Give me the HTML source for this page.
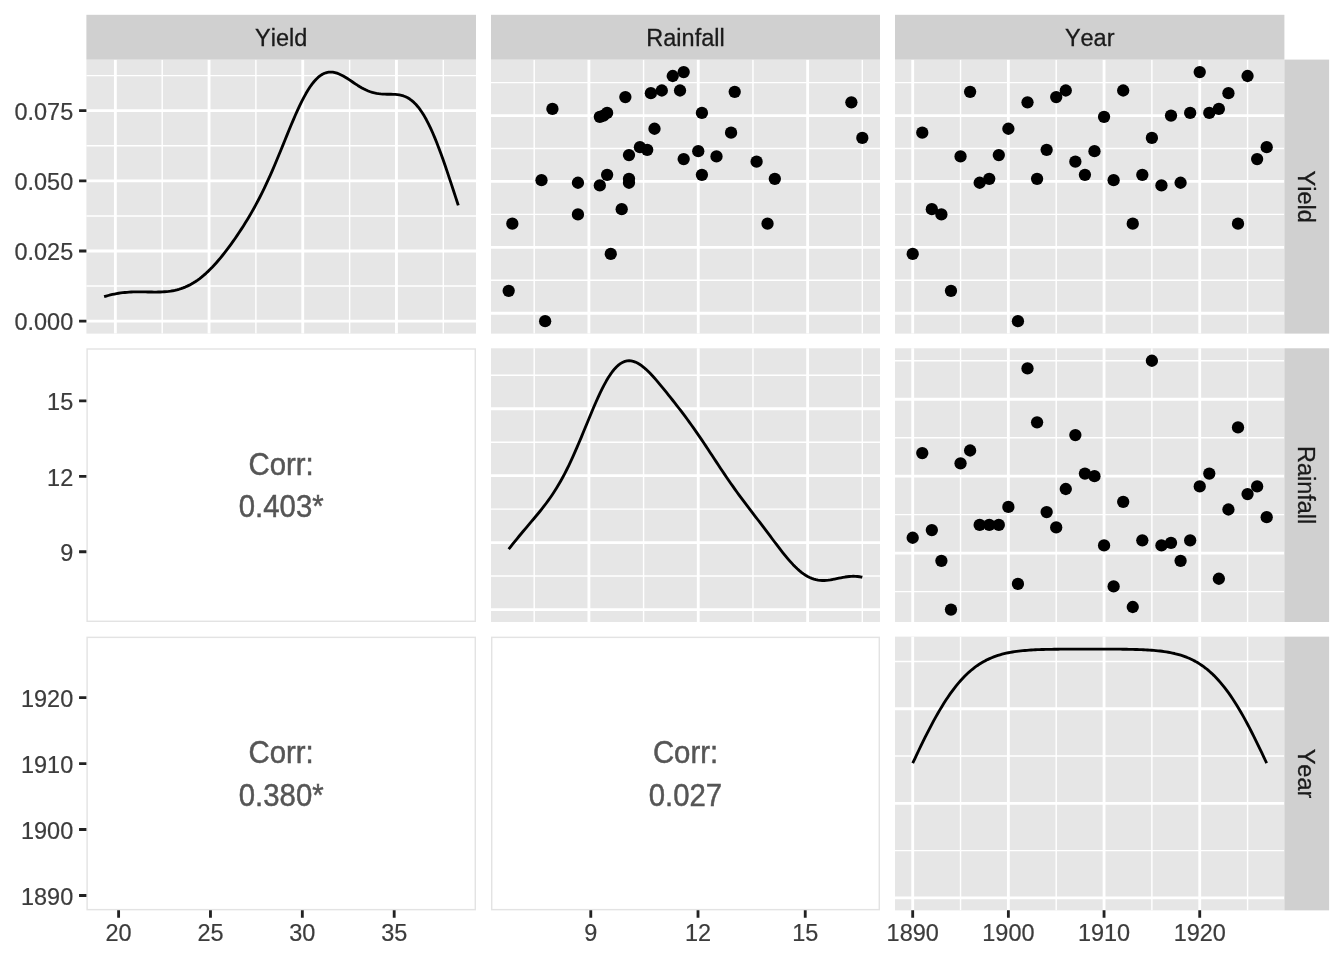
<!DOCTYPE html>
<html lang="en"><head><meta charset="utf-8"><title>Pairs plot: Yield, Rainfall, Year</title>
<style>html,body{margin:0;padding:0;background:#fff}svg{display:block}text{font-kerning:none}</style></head>
<body>
<svg width="1344" height="960" viewBox="0 0 1344 960" font-family="'Liberation Sans', Arial, Helvetica, sans-serif">
<rect width="1344" height="960" fill="#fff"/>
<rect x="86.4" y="59.6" width="389.60" height="274.02" fill="#E6E6E6"/>
<path d="M86.4 286.08H476.0M86.4 215.92H476.0M86.4 145.76H476.0M86.4 75.59H476.0M162.20 59.6V333.62M255.90 59.6V333.62M349.60 59.6V333.62M443.30 59.6V333.62" stroke="#fff" stroke-width="1.42" fill="none"/>
<path d="M86.4 321.16H476.0M86.4 251.00H476.0M86.4 180.84H476.0M86.4 110.67H476.0M115.35 59.6V333.62M209.05 59.6V333.62M302.75 59.6V333.62M396.45 59.6V333.62" stroke="#fff" stroke-width="2.84" fill="none"/>
<polyline points="104.11,296.72 106.19,296.09 108.27,295.50 110.35,294.96 112.43,294.47 114.51,294.02 116.59,293.62 118.66,293.27 120.74,292.96 122.82,292.69 124.90,292.47 126.98,292.29 129.06,292.14 131.14,292.03 133.22,291.95 135.30,291.90 137.38,291.87 139.46,291.87 141.54,291.88 143.62,291.91 145.70,291.94 147.78,291.98 149.85,292.01 151.93,292.04 154.01,292.06 156.09,292.06 158.17,292.04 160.25,291.99 162.33,291.90 164.41,291.77 166.49,291.60 168.57,291.37 170.65,291.09 172.73,290.74 174.81,290.33 176.89,289.84 178.97,289.27 181.04,288.62 183.12,287.89 185.20,287.06 187.28,286.14 189.36,285.13 191.44,284.01 193.52,282.79 195.60,281.47 197.68,280.05 199.76,278.52 201.84,276.89 203.92,275.16 206.00,273.32 208.08,271.38 210.16,269.35 212.24,267.22 214.31,265.00 216.39,262.68 218.47,260.29 220.55,257.81 222.63,255.25 224.71,252.62 226.79,249.92 228.87,247.15 230.95,244.31 233.03,241.41 235.11,238.45 237.19,235.41 239.27,232.31 241.35,229.15 243.43,225.91 245.50,222.59 247.58,219.19 249.66,215.70 251.74,212.12 253.82,208.44 255.90,204.65 257.98,200.75 260.06,196.73 262.14,192.59 264.22,188.33 266.30,183.94 268.38,179.43 270.46,174.80 272.54,170.06 274.62,165.22 276.69,160.29 278.77,155.28 280.85,150.21 282.93,145.11 285.01,139.99 287.09,134.88 289.17,129.80 291.25,124.79 293.33,119.86 295.41,115.06 297.49,110.41 299.57,105.93 301.65,101.65 303.73,97.61 305.81,93.81 307.88,90.28 309.96,87.05 312.04,84.11 314.12,81.50 316.20,79.20 318.28,77.23 320.36,75.59 322.44,74.27 324.52,73.27 326.60,72.57 328.68,72.17 330.76,72.06 332.84,72.20 334.92,72.58 337.00,73.18 339.08,73.97 341.15,74.93 343.23,76.03 345.31,77.25 347.39,78.55 349.47,79.91 351.55,81.30 353.63,82.70 355.71,84.08 357.79,85.43 359.87,86.71 361.95,87.92 364.03,89.04 366.11,90.06 368.19,90.96 370.27,91.75 372.34,92.41 374.42,92.95 376.50,93.38 378.58,93.71 380.66,93.94 382.74,94.08 384.82,94.17 386.90,94.21 388.98,94.23 391.06,94.25 393.14,94.30 395.22,94.41 397.30,94.61 399.38,94.91 401.46,95.36 403.53,95.98 405.61,96.79 407.69,97.81 409.77,99.08 411.85,100.62 413.93,102.43 416.01,104.54 418.09,106.95 420.17,109.68 422.25,112.73 424.33,116.10 426.41,119.79 428.49,123.80 430.57,128.11 432.65,132.72 434.72,137.61 436.80,142.76 438.88,148.15 440.96,153.75 443.04,159.55 445.12,165.52 447.20,171.63 449.28,177.85 451.36,184.15 453.44,190.50 455.52,196.88 457.60,203.25 458.29,205.37" fill="none" stroke="#000" stroke-width="2.84" stroke-linejoin="round"/>
<rect x="491.0" y="348.29" width="389.00" height="273.70" fill="#E6E6E6"/>
<path d="M491.0 576.08H880.0M491.0 509.14H880.0M491.0 442.20H880.0M491.0 375.25H880.0M534.20 348.29V621.99M643.57 348.29V621.99M752.95 348.29V621.99M862.32 348.29V621.99" stroke="#fff" stroke-width="1.42" fill="none"/>
<path d="M491.0 609.55H880.0M491.0 542.61H880.0M491.0 475.67H880.0M491.0 408.72H880.0M588.89 348.29V621.99M698.26 348.29V621.99M807.63 348.29V621.99" stroke="#fff" stroke-width="2.84" fill="none"/>
<polyline points="508.68,549.14 510.76,546.53 512.83,543.93 514.91,541.36 516.99,538.81 519.06,536.27 521.14,533.77 523.21,531.28 525.29,528.81 527.37,526.35 529.44,523.90 531.52,521.45 533.60,519.00 535.67,516.52 537.75,514.02 539.82,511.48 541.90,508.89 543.98,506.23 546.05,503.50 548.13,500.68 550.20,497.75 552.28,494.72 554.36,491.55 556.43,488.26 558.51,484.81 560.59,481.22 562.66,477.47 564.74,473.56 566.81,469.49 568.89,465.26 570.97,460.88 573.04,456.36 575.12,451.70 577.19,446.93 579.27,442.05 581.35,437.10 583.42,432.08 585.50,427.03 587.58,421.98 589.65,416.94 591.73,411.96 593.80,407.06 595.88,402.27 597.96,397.63 600.03,393.16 602.11,388.90 604.18,384.87 606.26,381.09 608.34,377.60 610.41,374.40 612.49,371.52 614.57,368.97 616.64,366.76 618.72,364.90 620.79,363.38 622.87,362.21 624.95,361.39 627.02,360.90 629.10,360.73 631.17,360.88 633.25,361.32 635.33,362.04 637.40,363.01 639.48,364.22 641.55,365.65 643.63,367.27 645.71,369.06 647.78,371.01 649.86,373.08 651.94,375.27 654.01,377.55 656.09,379.90 658.16,382.32 660.24,384.79 662.32,387.30 664.39,389.84 666.47,392.41 668.54,395.01 670.62,397.62 672.70,400.25 674.77,402.89 676.85,405.56 678.93,408.25 681.00,410.96 683.08,413.70 685.15,416.47 687.23,419.27 689.31,422.10 691.38,424.98 693.46,427.89 695.53,430.84 697.61,433.83 699.69,436.86 701.76,439.92 703.84,443.01 705.92,446.12 707.99,449.26 710.07,452.41 712.14,455.57 714.22,458.73 716.30,461.89 718.37,465.04 720.45,468.18 722.52,471.29 724.60,474.38 726.68,477.44 728.75,480.47 730.83,483.46 732.91,486.41 734.98,489.33 737.06,492.21 739.13,495.05 741.21,497.87 743.29,500.65 745.36,503.42 747.44,506.16 749.51,508.89 751.59,511.61 753.67,514.32 755.74,517.04 757.82,519.76 759.90,522.48 761.97,525.21 764.05,527.95 766.12,530.70 768.20,533.46 770.28,536.22 772.35,538.98 774.43,541.74 776.50,544.48 778.58,547.20 780.66,549.88 782.73,552.52 784.81,555.11 786.88,557.63 788.96,560.06 791.04,562.41 793.11,564.65 795.19,566.77 797.27,568.76 799.34,570.62 801.42,572.32 803.49,573.87 805.57,575.26 807.65,576.48 809.72,577.53 811.80,578.42 813.87,579.14 815.95,579.69 818.03,580.09 820.10,580.35 822.18,580.47 824.26,580.46 826.33,580.34 828.41,580.13 830.48,579.83 832.56,579.48 834.64,579.08 836.71,578.65 838.79,578.22 840.86,577.79 842.94,577.39 845.02,577.03 847.09,576.73 849.17,576.50 851.25,576.35 853.32,576.29 855.40,576.33 857.47,576.48 859.55,576.74 861.63,577.11 862.32,577.26" fill="none" stroke="#000" stroke-width="2.84" stroke-linejoin="round"/>
<rect x="895.0" y="636.65" width="389.40" height="273.70" fill="#E6E6E6"/>
<path d="M895.0 850.63H1284.4M895.0 756.07H1284.4M895.0 661.51H1284.4M960.54 636.65V910.35M1056.21 636.65V910.35M1151.89 636.65V910.35M1247.56 636.65V910.35" stroke="#fff" stroke-width="1.42" fill="none"/>
<path d="M895.0 897.91H1284.4M895.0 803.35H1284.4M895.0 708.79H1284.4M912.70 636.65V910.35M1008.38 636.65V910.35M1104.05 636.65V910.35M1199.73 636.65V910.35" stroke="#fff" stroke-width="2.84" fill="none"/>
<polyline points="912.70,763.22 914.78,758.78 916.86,754.38 918.93,750.01 921.01,745.69 923.09,741.42 925.17,737.22 927.25,733.09 929.33,729.03 931.40,725.06 933.48,721.18 935.56,717.39 937.64,713.71 939.72,710.13 941.80,706.66 943.87,703.30 945.95,700.06 948.03,696.93 950.11,693.93 952.19,691.05 954.27,688.29 956.34,685.65 958.42,683.13 960.50,680.74 962.58,678.46 964.66,676.30 966.74,674.26 968.81,672.33 970.89,670.52 972.97,668.81 975.05,667.20 977.13,665.70 979.20,664.30 981.28,662.99 983.36,661.77 985.44,660.64 987.52,659.59 989.60,658.62 991.67,657.72 993.75,656.89 995.83,656.13 997.91,655.44 999.99,654.80 1002.07,654.21 1004.14,653.68 1006.22,653.19 1008.30,652.75 1010.38,652.35 1012.46,651.99 1014.54,651.67 1016.61,651.37 1018.69,651.11 1020.77,650.87 1022.85,650.66 1024.93,650.47 1027.01,650.30 1029.08,650.15 1031.16,650.01 1033.24,649.89 1035.32,649.79 1037.40,649.70 1039.47,649.61 1041.55,649.54 1043.63,649.48 1045.71,649.42 1047.79,649.37 1049.87,649.33 1051.94,649.30 1054.02,649.26 1056.10,649.24 1058.18,649.21 1060.26,649.19 1062.34,649.17 1064.41,649.16 1066.49,649.15 1068.57,649.13 1070.65,649.12 1072.73,649.12 1074.81,649.11 1076.88,649.10 1078.96,649.10 1081.04,649.10 1083.12,649.09 1085.20,649.09 1087.28,649.09 1089.35,649.09 1091.43,649.09 1093.51,649.09 1095.59,649.09 1097.67,649.10 1099.75,649.10 1101.82,649.10 1103.90,649.11 1105.98,649.11 1108.06,649.12 1110.14,649.13 1112.21,649.14 1114.29,649.15 1116.37,649.17 1118.45,649.18 1120.53,649.20 1122.61,649.23 1124.68,649.25 1126.76,649.28 1128.84,649.32 1130.92,649.36 1133.00,649.41 1135.08,649.46 1137.15,649.52 1139.23,649.59 1141.31,649.67 1143.39,649.76 1145.47,649.86 1147.55,649.97 1149.62,650.10 1151.70,650.25 1153.78,650.41 1155.86,650.59 1157.94,650.80 1160.02,651.03 1162.09,651.28 1164.17,651.57 1166.25,651.88 1168.33,652.23 1170.41,652.62 1172.48,653.04 1174.56,653.51 1176.64,654.03 1178.72,654.60 1180.80,655.22 1182.88,655.89 1184.95,656.63 1187.03,657.44 1189.11,658.31 1191.19,659.26 1193.27,660.28 1195.35,661.38 1197.42,662.57 1199.50,663.85 1201.58,665.22 1203.66,666.69 1205.74,668.26 1207.82,669.93 1209.89,671.71 1211.97,673.60 1214.05,675.61 1216.13,677.73 1218.21,679.96 1220.29,682.32 1222.36,684.80 1224.44,687.39 1226.52,690.11 1228.60,692.96 1230.68,695.92 1232.75,699.00 1234.83,702.21 1236.91,705.53 1238.99,708.96 1241.07,712.50 1243.15,716.15 1245.22,719.91 1247.30,723.76 1249.38,727.70 1251.46,731.73 1253.54,735.84 1255.62,740.02 1257.69,744.26 1259.77,748.56 1261.85,752.92 1263.93,757.31 1266.01,761.74 1266.70,763.22" fill="none" stroke="#000" stroke-width="2.84" stroke-linejoin="round"/>
<rect x="491.0" y="59.6" width="389.00" height="274.02" fill="#E6E6E6"/>
<path d="M491.0 280.31H880.0M491.0 214.40H880.0M491.0 148.50H880.0M491.0 82.60H880.0M534.20 59.6V333.62M643.57 59.6V333.62M752.95 59.6V333.62M862.32 59.6V333.62" stroke="#fff" stroke-width="1.42" fill="none"/>
<path d="M491.0 313.26H880.0M491.0 247.35H880.0M491.0 181.45H880.0M491.0 115.55H880.0M588.89 59.6V333.62M698.26 59.6V333.62M807.63 59.6V333.62" stroke="#fff" stroke-width="2.84" fill="none"/>
<g fill="#000">
<circle cx="610.76" cy="253.94" r="6.15"/>
<circle cx="731.07" cy="132.69" r="6.15"/>
<circle cx="621.70" cy="209.13" r="6.15"/>
<circle cx="577.95" cy="214.40" r="6.15"/>
<circle cx="508.68" cy="290.85" r="6.15"/>
<circle cx="716.49" cy="156.41" r="6.15"/>
<circle cx="734.72" cy="91.83" r="6.15"/>
<circle cx="628.99" cy="182.77" r="6.15"/>
<circle cx="628.99" cy="178.82" r="6.15"/>
<circle cx="628.99" cy="155.09" r="6.15"/>
<circle cx="654.51" cy="128.73" r="6.15"/>
<circle cx="545.14" cy="321.16" r="6.15"/>
<circle cx="851.38" cy="102.37" r="6.15"/>
<circle cx="774.82" cy="178.82" r="6.15"/>
<circle cx="647.22" cy="149.82" r="6.15"/>
<circle cx="625.35" cy="97.10" r="6.15"/>
<circle cx="680.03" cy="90.51" r="6.15"/>
<circle cx="756.59" cy="161.68" r="6.15"/>
<circle cx="701.91" cy="174.86" r="6.15"/>
<circle cx="698.26" cy="151.14" r="6.15"/>
<circle cx="599.83" cy="116.87" r="6.15"/>
<circle cx="541.49" cy="180.13" r="6.15"/>
<circle cx="661.80" cy="90.51" r="6.15"/>
<circle cx="512.33" cy="223.63" r="6.15"/>
<circle cx="607.12" cy="174.86" r="6.15"/>
<circle cx="862.32" cy="137.96" r="6.15"/>
<circle cx="599.83" cy="185.41" r="6.15"/>
<circle cx="603.47" cy="115.55" r="6.15"/>
<circle cx="577.95" cy="182.77" r="6.15"/>
<circle cx="607.12" cy="112.91" r="6.15"/>
<circle cx="683.68" cy="72.06" r="6.15"/>
<circle cx="701.91" cy="112.91" r="6.15"/>
<circle cx="552.43" cy="108.96" r="6.15"/>
<circle cx="650.87" cy="93.14" r="6.15"/>
<circle cx="767.53" cy="223.63" r="6.15"/>
<circle cx="672.74" cy="76.01" r="6.15"/>
<circle cx="683.68" cy="159.05" r="6.15"/>
<circle cx="639.93" cy="147.18" r="6.15"/>
</g>
<rect x="895.0" y="59.6" width="389.40" height="274.02" fill="#E6E6E6"/>
<path d="M895.0 280.31H1284.4M895.0 214.40H1284.4M895.0 148.50H1284.4M895.0 82.60H1284.4M960.54 59.6V333.62M1056.21 59.6V333.62M1151.89 59.6V333.62M1247.56 59.6V333.62" stroke="#fff" stroke-width="1.42" fill="none"/>
<path d="M895.0 313.26H1284.4M895.0 247.35H1284.4M895.0 181.45H1284.4M895.0 115.55H1284.4M912.70 59.6V333.62M1008.38 59.6V333.62M1104.05 59.6V333.62M1199.73 59.6V333.62" stroke="#fff" stroke-width="2.84" fill="none"/>
<g fill="#000">
<circle cx="912.70" cy="253.94" r="6.15"/>
<circle cx="922.27" cy="132.69" r="6.15"/>
<circle cx="931.84" cy="209.13" r="6.15"/>
<circle cx="941.40" cy="214.40" r="6.15"/>
<circle cx="950.97" cy="290.85" r="6.15"/>
<circle cx="960.54" cy="156.41" r="6.15"/>
<circle cx="970.11" cy="91.83" r="6.15"/>
<circle cx="979.67" cy="182.77" r="6.15"/>
<circle cx="989.24" cy="178.82" r="6.15"/>
<circle cx="998.81" cy="155.09" r="6.15"/>
<circle cx="1008.38" cy="128.73" r="6.15"/>
<circle cx="1017.94" cy="321.16" r="6.15"/>
<circle cx="1027.51" cy="102.37" r="6.15"/>
<circle cx="1037.08" cy="178.82" r="6.15"/>
<circle cx="1046.65" cy="149.82" r="6.15"/>
<circle cx="1056.21" cy="97.10" r="6.15"/>
<circle cx="1065.78" cy="90.51" r="6.15"/>
<circle cx="1075.35" cy="161.68" r="6.15"/>
<circle cx="1084.92" cy="174.86" r="6.15"/>
<circle cx="1094.48" cy="151.14" r="6.15"/>
<circle cx="1104.05" cy="116.87" r="6.15"/>
<circle cx="1113.62" cy="180.13" r="6.15"/>
<circle cx="1123.19" cy="90.51" r="6.15"/>
<circle cx="1132.75" cy="223.63" r="6.15"/>
<circle cx="1142.32" cy="174.86" r="6.15"/>
<circle cx="1151.89" cy="137.96" r="6.15"/>
<circle cx="1161.46" cy="185.41" r="6.15"/>
<circle cx="1171.02" cy="115.55" r="6.15"/>
<circle cx="1180.59" cy="182.77" r="6.15"/>
<circle cx="1190.16" cy="112.91" r="6.15"/>
<circle cx="1199.73" cy="72.06" r="6.15"/>
<circle cx="1209.29" cy="112.91" r="6.15"/>
<circle cx="1218.86" cy="108.96" r="6.15"/>
<circle cx="1228.43" cy="93.14" r="6.15"/>
<circle cx="1238.00" cy="223.63" r="6.15"/>
<circle cx="1247.56" cy="76.01" r="6.15"/>
<circle cx="1257.13" cy="159.05" r="6.15"/>
<circle cx="1266.70" cy="147.18" r="6.15"/>
</g>
<rect x="895.0" y="348.29" width="389.40" height="273.70" fill="#E6E6E6"/>
<path d="M895.0 591.59H1284.4M895.0 514.64H1284.4M895.0 437.68H1284.4M895.0 360.73H1284.4M960.54 348.29V621.99M1056.21 348.29V621.99M1151.89 348.29V621.99M1247.56 348.29V621.99" stroke="#fff" stroke-width="1.42" fill="none"/>
<path d="M895.0 553.12H1284.4M895.0 476.16H1284.4M895.0 399.21H1284.4M912.70 348.29V621.99M1008.38 348.29V621.99M1104.05 348.29V621.99M1199.73 348.29V621.99" stroke="#fff" stroke-width="2.84" fill="none"/>
<g fill="#000">
<circle cx="912.70" cy="537.73" r="6.15"/>
<circle cx="922.27" cy="453.08" r="6.15"/>
<circle cx="931.84" cy="530.03" r="6.15"/>
<circle cx="941.40" cy="560.81" r="6.15"/>
<circle cx="950.97" cy="609.55" r="6.15"/>
<circle cx="960.54" cy="463.34" r="6.15"/>
<circle cx="970.11" cy="450.51" r="6.15"/>
<circle cx="979.67" cy="524.90" r="6.15"/>
<circle cx="989.24" cy="524.90" r="6.15"/>
<circle cx="998.81" cy="524.90" r="6.15"/>
<circle cx="1008.38" cy="506.94" r="6.15"/>
<circle cx="1017.94" cy="583.90" r="6.15"/>
<circle cx="1027.51" cy="368.43" r="6.15"/>
<circle cx="1037.08" cy="422.29" r="6.15"/>
<circle cx="1046.65" cy="512.07" r="6.15"/>
<circle cx="1056.21" cy="527.46" r="6.15"/>
<circle cx="1065.78" cy="488.99" r="6.15"/>
<circle cx="1075.35" cy="435.12" r="6.15"/>
<circle cx="1084.92" cy="473.60" r="6.15"/>
<circle cx="1094.48" cy="476.16" r="6.15"/>
<circle cx="1104.05" cy="545.42" r="6.15"/>
<circle cx="1113.62" cy="586.46" r="6.15"/>
<circle cx="1123.19" cy="501.81" r="6.15"/>
<circle cx="1132.75" cy="606.98" r="6.15"/>
<circle cx="1142.32" cy="540.29" r="6.15"/>
<circle cx="1151.89" cy="360.73" r="6.15"/>
<circle cx="1161.46" cy="545.42" r="6.15"/>
<circle cx="1171.02" cy="542.86" r="6.15"/>
<circle cx="1180.59" cy="560.81" r="6.15"/>
<circle cx="1190.16" cy="540.29" r="6.15"/>
<circle cx="1199.73" cy="486.42" r="6.15"/>
<circle cx="1209.29" cy="473.60" r="6.15"/>
<circle cx="1218.86" cy="578.77" r="6.15"/>
<circle cx="1228.43" cy="509.51" r="6.15"/>
<circle cx="1238.00" cy="427.42" r="6.15"/>
<circle cx="1247.56" cy="494.12" r="6.15"/>
<circle cx="1257.13" cy="486.42" r="6.15"/>
<circle cx="1266.70" cy="517.20" r="6.15"/>
</g>
<rect x="87.11" y="349.00" width="388.18" height="272.28" fill="#fff" stroke="#E3E3E3" stroke-width="1.42"/>
<text transform="translate(281.20 475.44) scale(1 1.04)" font-size="29.33" fill="#555555" stroke="#555555" stroke-width="0.45" text-anchor="middle">Corr:</text>
<text transform="translate(281.20 517.44) scale(1 1.04)" font-size="29.33" fill="#555555" stroke="#555555" stroke-width="0.45" text-anchor="middle">0.403*</text>
<rect x="87.11" y="637.36" width="388.18" height="272.28" fill="#fff" stroke="#E3E3E3" stroke-width="1.42"/>
<text transform="translate(281.20 762.80) scale(1 1.04)" font-size="29.33" fill="#555555" stroke="#555555" stroke-width="0.45" text-anchor="middle">Corr:</text>
<text transform="translate(281.20 805.80) scale(1 1.04)" font-size="29.33" fill="#555555" stroke="#555555" stroke-width="0.45" text-anchor="middle">0.380*</text>
<rect x="491.71" y="637.36" width="387.58" height="272.28" fill="#fff" stroke="#E3E3E3" stroke-width="1.42"/>
<text transform="translate(685.50 762.80) scale(1 1.04)" font-size="29.33" fill="#555555" stroke="#555555" stroke-width="0.45" text-anchor="middle">Corr:</text>
<text transform="translate(685.50 805.80) scale(1 1.04)" font-size="29.33" fill="#555555" stroke="#555555" stroke-width="0.45" text-anchor="middle">0.027</text>
<rect x="86.4" y="14.8" width="389.60" height="44.80" fill="#D0D0D0"/>
<text transform="translate(281.20 45.60) scale(1 1.0)" font-size="23.47" fill="#1A1A1A" stroke="#1A1A1A" stroke-width="0.3" text-anchor="middle">Yield</text>
<rect x="491.0" y="14.8" width="389.00" height="44.80" fill="#D0D0D0"/>
<text transform="translate(685.50 45.60) scale(1 1.0)" font-size="23.47" fill="#1A1A1A" stroke="#1A1A1A" stroke-width="0.3" text-anchor="middle">Rainfall</text>
<rect x="895.0" y="14.8" width="389.40" height="44.80" fill="#D0D0D0"/>
<text transform="translate(1089.70 45.60) scale(1 1.0)" font-size="23.47" fill="#1A1A1A" stroke="#1A1A1A" stroke-width="0.3" text-anchor="middle">Year</text>
<rect x="1284.4" y="59.6" width="44.70" height="274.02" fill="#D0D0D0"/>
<text transform="translate(1298.35 196.61) rotate(90) scale(1 1.0)" font-size="23.47" fill="#1A1A1A" stroke="#1A1A1A" stroke-width="0.3" text-anchor="middle">Yield</text>
<rect x="1284.4" y="348.29" width="44.70" height="273.70" fill="#D0D0D0"/>
<text transform="translate(1298.35 485.14) rotate(90) scale(1 1.0)" font-size="23.47" fill="#1A1A1A" stroke="#1A1A1A" stroke-width="0.3" text-anchor="middle">Rainfall</text>
<rect x="1284.4" y="636.65" width="44.70" height="273.70" fill="#D0D0D0"/>
<text transform="translate(1298.35 773.50) rotate(90) scale(1 1.0)" font-size="23.47" fill="#1A1A1A" stroke="#1A1A1A" stroke-width="0.3" text-anchor="middle">Year</text>
<text transform="translate(73.20 330.36) scale(1 1.04)" font-size="23.47" fill="#3C3C3C" stroke="#3C3C3C" stroke-width="0.2" text-anchor="end">0.000</text>
<text transform="translate(73.20 260.20) scale(1 1.04)" font-size="23.47" fill="#3C3C3C" stroke="#3C3C3C" stroke-width="0.2" text-anchor="end">0.025</text>
<text transform="translate(73.20 190.04) scale(1 1.04)" font-size="23.47" fill="#3C3C3C" stroke="#3C3C3C" stroke-width="0.2" text-anchor="end">0.050</text>
<text transform="translate(73.20 119.87) scale(1 1.04)" font-size="23.47" fill="#3C3C3C" stroke="#3C3C3C" stroke-width="0.2" text-anchor="end">0.075</text>
<path d="M79.07 321.16H86.4M79.07 251.00H86.4M79.07 180.84H86.4M79.07 110.67H86.4" stroke="#222" stroke-width="2.84" fill="none"/>
<text transform="translate(73.20 560.98) scale(1 1.04)" font-size="23.47" fill="#3C3C3C" stroke="#3C3C3C" stroke-width="0.2" text-anchor="end">9</text>
<text transform="translate(73.20 485.54) scale(1 1.04)" font-size="23.47" fill="#3C3C3C" stroke="#3C3C3C" stroke-width="0.2" text-anchor="end">12</text>
<text transform="translate(73.20 410.09) scale(1 1.04)" font-size="23.47" fill="#3C3C3C" stroke="#3C3C3C" stroke-width="0.2" text-anchor="end">15</text>
<path d="M79.07 551.78H86.4M79.07 476.34H86.4M79.07 400.89H86.4" stroke="#222" stroke-width="2.84" fill="none"/>
<text transform="translate(73.20 904.67) scale(1 1.04)" font-size="23.47" fill="#3C3C3C" stroke="#3C3C3C" stroke-width="0.2" text-anchor="end">1890</text>
<text transform="translate(73.20 838.74) scale(1 1.04)" font-size="23.47" fill="#3C3C3C" stroke="#3C3C3C" stroke-width="0.2" text-anchor="end">1900</text>
<text transform="translate(73.20 772.81) scale(1 1.04)" font-size="23.47" fill="#3C3C3C" stroke="#3C3C3C" stroke-width="0.2" text-anchor="end">1910</text>
<text transform="translate(73.20 706.88) scale(1 1.04)" font-size="23.47" fill="#3C3C3C" stroke="#3C3C3C" stroke-width="0.2" text-anchor="end">1920</text>
<path d="M79.07 895.47H86.4M79.07 829.54H86.4M79.07 763.61H86.4M79.07 697.68H86.4" stroke="#222" stroke-width="2.84" fill="none"/>
<text transform="translate(118.60 941.00) scale(1 1.04)" font-size="23.47" fill="#3C3C3C" stroke="#3C3C3C" stroke-width="0.2" text-anchor="middle">20</text>
<text transform="translate(210.47 941.00) scale(1 1.04)" font-size="23.47" fill="#3C3C3C" stroke="#3C3C3C" stroke-width="0.2" text-anchor="middle">25</text>
<text transform="translate(302.33 941.00) scale(1 1.04)" font-size="23.47" fill="#3C3C3C" stroke="#3C3C3C" stroke-width="0.2" text-anchor="middle">30</text>
<text transform="translate(394.19 941.00) scale(1 1.04)" font-size="23.47" fill="#3C3C3C" stroke="#3C3C3C" stroke-width="0.2" text-anchor="middle">35</text>
<path d="M118.60 910.35V917.68M210.47 910.35V917.68M302.33 910.35V917.68M394.19 910.35V917.68" stroke="#222" stroke-width="2.84" fill="none"/>
<text transform="translate(590.78 941.00) scale(1 1.04)" font-size="23.47" fill="#3C3C3C" stroke="#3C3C3C" stroke-width="0.2" text-anchor="middle">9</text>
<text transform="translate(698.01 941.00) scale(1 1.04)" font-size="23.47" fill="#3C3C3C" stroke="#3C3C3C" stroke-width="0.2" text-anchor="middle">12</text>
<text transform="translate(805.24 941.00) scale(1 1.04)" font-size="23.47" fill="#3C3C3C" stroke="#3C3C3C" stroke-width="0.2" text-anchor="middle">15</text>
<path d="M590.78 910.35V917.68M698.01 910.35V917.68M805.24 910.35V917.68" stroke="#222" stroke-width="2.84" fill="none"/>
<text transform="translate(912.70 941.00) scale(1 1.04)" font-size="23.47" fill="#3C3C3C" stroke="#3C3C3C" stroke-width="0.2" text-anchor="middle">1890</text>
<text transform="translate(1008.38 941.00) scale(1 1.04)" font-size="23.47" fill="#3C3C3C" stroke="#3C3C3C" stroke-width="0.2" text-anchor="middle">1900</text>
<text transform="translate(1104.05 941.00) scale(1 1.04)" font-size="23.47" fill="#3C3C3C" stroke="#3C3C3C" stroke-width="0.2" text-anchor="middle">1910</text>
<text transform="translate(1199.73 941.00) scale(1 1.04)" font-size="23.47" fill="#3C3C3C" stroke="#3C3C3C" stroke-width="0.2" text-anchor="middle">1920</text>
<path d="M912.70 910.35V917.68M1008.38 910.35V917.68M1104.05 910.35V917.68M1199.73 910.35V917.68" stroke="#222" stroke-width="2.84" fill="none"/>
</svg>
</body></html>
